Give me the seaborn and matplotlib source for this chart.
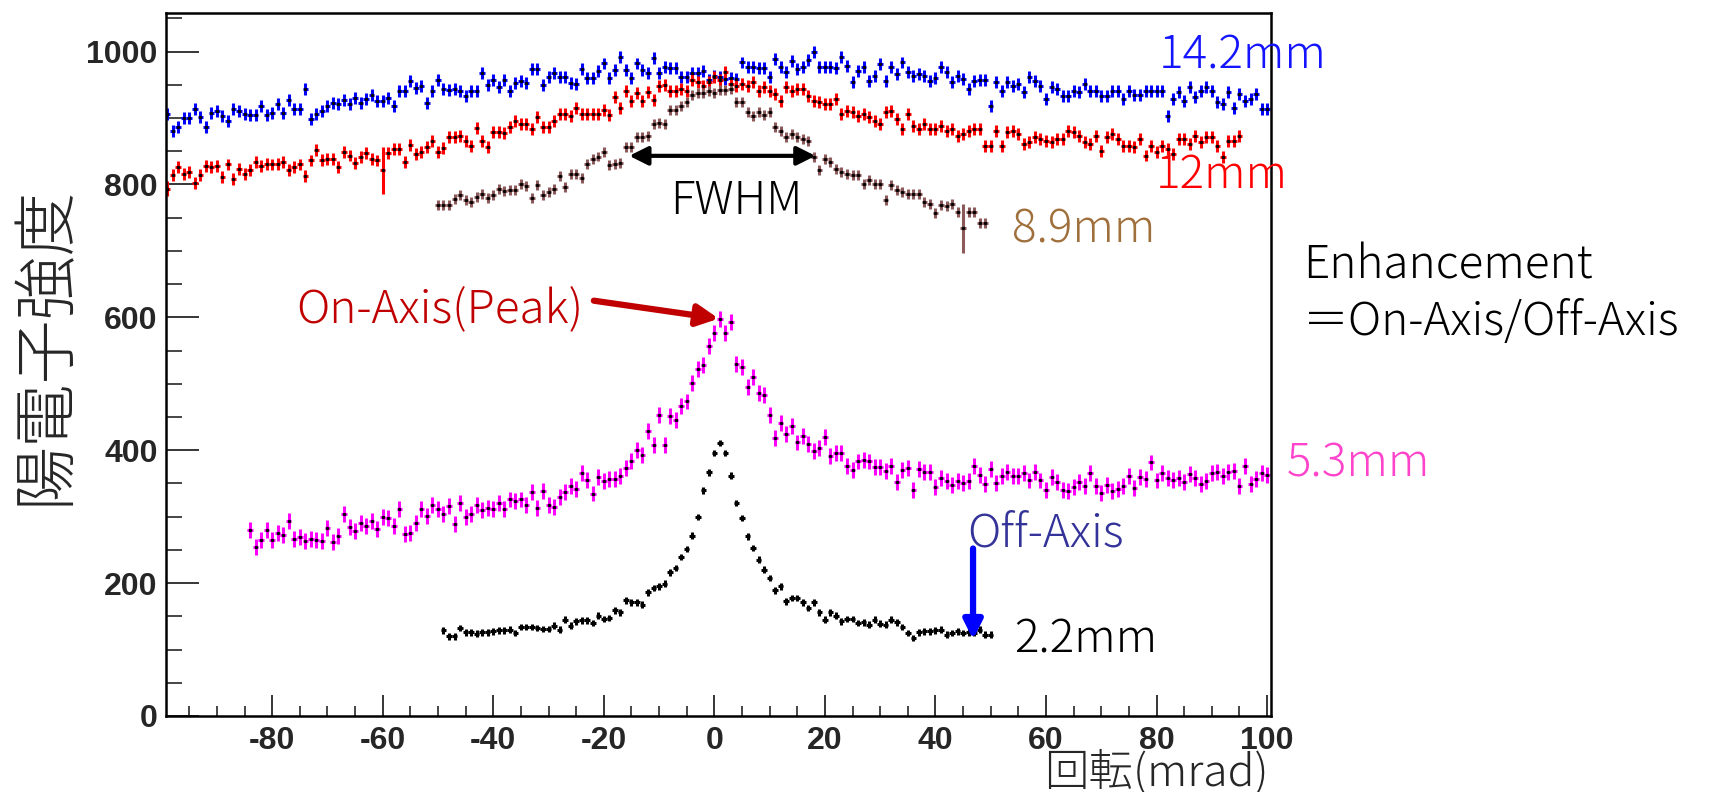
import numpy as np
import pandas as pd
import seaborn as sns
import matplotlib.pyplot as plt
from matplotlib.ticker import MultipleLocator

# --- data (1 mrad bins) ---
blue_start = -99
blue_y = [906, 881, 887, 900, 900, 913, 902, 886, 907, 910,
          903, 895, 913, 910, 906, 905, 905, 918, 905, 908,
          921, 908, 927, 913, 913, 943, 898, 906, 910, 918,
          923, 921, 927, 921, 930, 923, 928, 935, 926, 926,
          930, 918, 940, 940, 955, 945, 948, 923, 940, 957,
          943, 942, 943, 940, 933, 941, 941, 967, 950, 957,
          947, 957, 941, 953, 955, 953, 973, 973, 950, 961,
          967, 962, 962, 953, 951, 973, 960, 960, 971, 982,
          960, 972, 992, 972, 960, 982, 972, 968, 990, 967,
          977, 975, 975, 962, 962, 967, 967, 971, 957, 963,
          962, 958, 960, 958,
          983.5, 976, 976, 975, 975, 961, 988.5, 976, 968.5, 986,
          973.5, 976, 987, 1000, 976, 976, 976, 975, 992, 978.5,
          953.5, 971, 976, 956, 963.5, 981, 956, 976, 966, 983.5,
          968.5, 963.5, 966, 963.5, 956, 960, 976, 968.5, 953.5, 963.5,
          958.5, 943.5, 956, 957, 957, 918.5, 953.5, 941, 953.5, 948.5,
          951, 938.5, 961, 956, 948.5, 928.5, 946, 943.5, 933.5, 933.5,
          941, 938.5, 951, 941, 940, 933.5, 933.5, 941, 941, 928.5,
          941, 935, 935, 941, 941, 941, 941, 903.5, 928.5, 938.5,
          926, 947, 931, 941, 946, 941, 923.5, 921, 938.5, 915,
          936, 926, 928.5, 936, 913.5, 913.5]

red_start = -99
red_y = [793.5, 813.5, 826, 815, 818.5, 802, 813.5, 827.5, 826, 827.5,
         811, 830, 808.5, 823.5, 815, 822, 833.5, 827.5, 831, 830,
         831, 833.5, 821, 826, 830, 812, 836, 852, 837, 838.5,
         838.5, 826, 849.5, 843.5, 832, 841, 847, 838.5, 836, 821,
         847, 853.5, 853.5, 833.5, 860, 846, 849.5, 856, 866, 849.5,
         855, 871, 871, 873.5, 866, 858.5, 885, 865, 857, 878.5,
         878.5, 877, 886, 896, 891, 891, 883.5, 901, 886, 886,
         896, 906, 906, 903.5, 915, 906, 906, 906, 906, 912,
         905, 931, 915, 940, 925, 937, 926, 938.5, 927, 948.5,
         950, 941, 940, 943.5, 940, 957, 953.5, 948.5, 953.5, 962,
         957, 969,
         951, 948.5, 951, 948.5, 953.5, 941, 946, 941, 936, 926,
         946, 941, 943.5, 943.5, 933.5, 926, 923.5, 921, 921, 928.5,
         906, 911, 908.5, 903.5, 906, 901, 896, 891, 908.5, 911,
         898.5, 883.5, 906, 888.5, 883.5, 891, 883.5, 883.5, 888.5, 881,
         883.5, 873.5, 876, 881, 883.5, 883.5, 858.5, 858.5, 881, 858.5,
         878.5, 881, 876, 861, 863.5, 871, 868.5, 866, 863.5, 868.5,
         868.5, 881, 878.5, 873.5, 863.5, 861, 873.5, 851, 871, 876,
         868.5, 858.5, 858.5, 856, 868.5, 843.5, 858.5, 848.5, 858.5, 853.5,
         846, 868.5, 868.5, 861, 873.5, 863.5, 871, 871, 858.5, 841,
         866, 866, 873.5]

brown_start = -50
brown_y = [768.5, 768.5, 768.5, 778.5, 783.5, 776, 773.5, 781, 786, 780,
           783.5, 793.5, 790, 791, 791, 801, 797, 780, 798.5, 783.5,
           788.5, 793.5, 812, 796, 815, 815, 810, 830, 838.5, 842,
           848.5, 828.5, 831, 832, 856, 856, 871, 871, 873.5, 891,
           892, 891, 912, 912, 918.5, 923.5, 935, 937, 937, 941, 937,
           942, 942, 943, 924, 924, 909, 903, 909, 904, 909,
           886, 881, 871, 876, 871, 868.5, 866, 841, 821, 838.5,
           833.5, 823.5, 818.5, 816, 813.5, 813.5, 801, 806, 801, 801,
           777, 798.5, 791, 788.5, 786, 786, 785, 773, 770, 757,
           769, 767, 771, 759, 734, 759, 759, 742, 742]

magenta_start = -84
magenta_y = [279.8, 254.8, 264.8, 279.8, 264.8, 274.8, 271.8, 293.3, 266.8, 269.8,
             263.3, 266.8, 264.8, 263.3, 283.3, 261.8, 270.8, 303.3, 284.8, 278.3,
             290.8, 285.8, 293.3, 281.8, 299.8, 298.3, 285.8, 310.8, 273.3, 275.8,
             289.8, 311.8, 300.8, 316.8, 310.8, 303.3, 315.8, 288.3, 320.8, 299.8,
             303.3, 316.8, 309.8, 313.3, 311.8, 320.8, 311.8, 325.8, 323.3, 325.8,
             316.8, 336.8, 313.3, 338.3, 316.8, 314.8, 329.8, 336.8, 345.8, 341.8,
             365.8, 355.8, 334.8, 359.8, 353.3, 356.8, 356.8, 361.8, 373.3, 383.3,
             400.8, 393.3, 428.3, 408.3, 453.3, 408.3, 450.8, 445.8, 466.8, 473.3,
             501, 522,
             528.4, 557, 577, 597, 577, 593.5, 529.9, 524.9, 494.8, 509.8,
             485.8, 483.3, 453.2, 418.1, 440.7, 424.6, 436.7, 411.6, 421.6, 409.6,
             398.1, 403.1, 419.6, 391.5, 395.6, 395.6, 376.5, 369.5, 383.0, 385.5,
             383.0, 374.5, 374.5, 368.0, 375.5, 351.5, 369.5, 373.0, 340.4, 372.0,
             366.5, 366.5, 344.4, 358.0, 353.0, 347.9, 353.0, 350.4, 353.0, 375.5,
             363.0, 349.5, 371.5, 350.4, 361.5, 366.5, 361.5, 361.5, 365.5, 354.4,
             366.5, 354.4, 339.4, 359.5, 351.5, 340.4, 337.9, 344.4, 351.5, 346.4,
             365.5, 345.4, 335.4, 347.9, 337.9, 341.4, 345.4, 361.5, 342.9, 359.5,
             356.5, 381.5, 354.4, 365.5, 358.0, 355.4, 358.0, 351.5, 364.5, 358.0,
             349.5, 353.0, 365.5, 366.5, 361.5, 366.5, 368.0, 346.4, 376.5, 349.5,
             356.5, 365.5, 363.0]

black_start = -49
black_y = [128.9, 119.9, 119.9, 132.4, 125.9, 125.9, 123.9, 125.9, 125.9, 127.4,
           128.9, 128.9, 129.9, 124.9, 133.9, 133.9, 133.9, 132.4, 130.9, 130.9,
           135.9, 129.9, 144.9, 135.9, 142.4, 143.9, 143.9, 139.9, 150.9, 145.9,
           147.4, 159.0, 156.0, 174.0, 171.0, 171.0, 167.5, 186.0, 192.5, 195.1,
           199.1, 216.1, 222.6, 239.2, 251.2, 271.3, 299.3, 339.4, 366.5, 395.6,
           410.6, 395.6, 361.5, 320.4, 297.8, 270.3, 252.7, 235.2, 220.1, 207.6,
           189.1, 195.1, 172.5, 177.5, 177.5, 171.0, 162.5, 171.0, 156.0, 144.9,
           156.0, 150.9, 142.4, 145.9, 145.9, 139.9, 140.9, 137.4, 144.9, 138.9,
           137.4, 144.9, 140.9, 133.9, 124.9, 117.4, 125.9, 127.4, 127.4, 128.9,
           129.9, 122.4, 124.9, 127.4, 124.9, 125.9, 124.9, 129.9, 122.4, 122.4]

# typical error per scan, plus the few long bars
err_typ = {'14.2mm': 9, '12mm': 9, '8.9mm': 7.5, '5.3mm': 12, '2.2mm': 5}
err_big = {('12mm', -60): 36, ('12mm', -99): 11, ('8.9mm', 45): 37}

scans = ['14.2mm', '12mm', '8.9mm', '5.3mm', '2.2mm']
starts = [blue_start, red_start, brown_start, magenta_start, black_start]
values = [blue_y, red_y, brown_y, magenta_y, black_y]
bar_colors = ['#0000ff', '#ff0000', '#8c5a5a', '#ff00ff', '#000000']

frames = []
for scan, st, vals in zip(scans, starts, values):
    d = pd.DataFrame({'mrad': st + np.arange(len(vals)), 'count': vals, 'scan': scan})
    d['err'] = [err_big.get((scan, m), err_typ[scan]) for m in d['mrad']]
    frames.append(d)
df = pd.concat(frames, ignore_index=True)

sns.set_style('ticks')
plt.rcParams['font.family'] = ['Noto Sans CJK JP', 'DejaVu Sans']
plt.rcParams['axes.unicode_minus'] = False

fig = plt.figure(figsize=(17.15, 7.92), dpi=100)
ax = fig.add_axes([0.0968, 0.096, 0.6443, 0.8876])

for scan, col in zip(scans, bar_colors):
    sub = df[df['scan'] == scan]
    ax.errorbar(sub['mrad'], sub['count'], yerr=sub['err'], xerr=0.5,
                fmt='none', ecolor=col, elinewidth=2.2, capsize=0, zorder=2)
sns.scatterplot(data=df, x='mrad', y='count', color='black', s=6,
                linewidth=0, legend=False, ax=ax, zorder=3)

ax.set_xlim(-99.2, 100.7)
ax.set_ylim(0, 1058)
ax.set_xlabel('')
ax.set_ylabel('')
ax.xaxis.set_major_locator(MultipleLocator(20))
ax.xaxis.set_minor_locator(MultipleLocator(5))
ax.yaxis.set_major_locator(MultipleLocator(200))
ax.yaxis.set_minor_locator(MultipleLocator(50))
ax.tick_params(axis='x', which='major', direction='in', length=15, width=1.3, pad=7)
ax.tick_params(axis='x', which='minor', direction='in', length=7, width=1.2)
ax.tick_params(axis='y', which='major', direction='in', length=24, width=1.3, pad=6)
ax.tick_params(axis='y', which='minor', direction='in', length=11.5, width=1.2)
for lab in ax.get_xticklabels() + ax.get_yticklabels():
    lab.set_family('Liberation Sans')
    lab.set_fontweight('bold')
    lab.set_fontsize(23)
for sp in ax.spines.values():
    sp.set_visible(True)
    sp.set_linewidth(1.8)
    sp.set_color('black')

ann = dict(fontsize=33, va='baseline', clip_on=False, fontweight='light')
ax.text(80.4, 975, '14.2mm', color='#1414ff', ha='left', **ann)
ax.text(79.9, 795, '12mm', color='#ff0000', ha='left', **ann)
ax.text(53.9, 712, '8.9mm', color='#a0703c', ha='left', **ann)
ax.text(103.6, 360, '5.3mm', color='#ff44cc', ha='left', **ann)
ax.text(54.2, 95, '2.2mm', color='black', ha='left', **ann)
ax.text(45.7, 255, 'Off-Axis', color='#333399', ha='left', **ann)
ax.text(3.9, 756, 'FWHM', color='black', ha='center', **ann)
ax.text(-23.7, 592, 'On-Axis(Peak)', color='#c00000', ha='right', **ann)
ax.text(106.5, 659, 'Enhancement', color='black', ha='left', **ann)
ax.text(106.5, 574, '＝On-Axis/Off-Axis', color='black', ha='left', **ann)

ax.annotate('', xy=(-15.4, 843), xytext=(18.3, 843),
            arrowprops=dict(arrowstyle='<|-|>', color='black', lw=3,
                            mutation_scale=28, shrinkA=0, shrinkB=0))
ax.annotate('', xy=(0.8, 598), xytext=(-21.8, 625),
            arrowprops=dict(arrowstyle='-|>', color='#c00000', lw=4.5,
                            mutation_scale=32, shrinkA=0, shrinkB=0))
ax.annotate('', xy=(46.8, 115), xytext=(46.8, 252),
            arrowprops=dict(arrowstyle='-|>', color='#0000ff', lw=4.5,
                            mutation_scale=28, shrinkA=0, shrinkB=0))

fig.text(46 / 1715, 1 - 345 / 792, '陽電子強度', rotation=90, ha='center',
         va='center', fontsize=46, fontweight='light')
fig.text(1269 / 1715, -0.004, '回転(mrad)', ha='right', va='bottom',
         fontsize=32, fontweight='light')

fig.savefig('out.png', dpi=100)
